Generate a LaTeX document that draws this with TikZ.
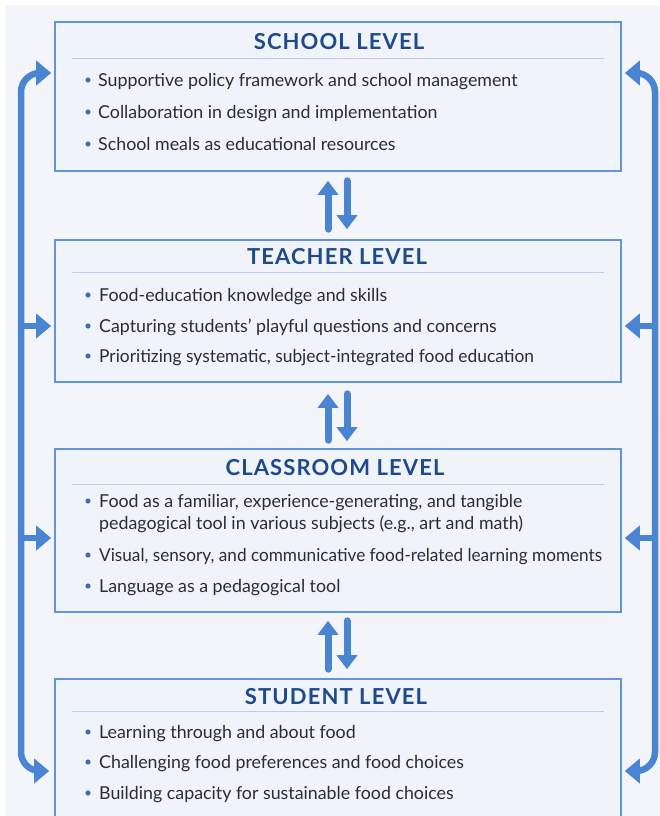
\documentclass[tikz,border=0pt]{standalone}
\usepackage{fontspec}
\setmainfont{Lato}
\usetikzlibrary{arrows.meta}
\definecolor{bgc}{HTML}{F4F5FA}
\definecolor{boxfill}{HTML}{F1F3FA}
\definecolor{boxline}{HTML}{6294DA}
\definecolor{sepc}{HTML}{BCCDEB}
\definecolor{ttlc}{HTML}{1D4A8C}
\definecolor{txtc}{HTML}{2A2C36}
\definecolor{arrc}{HTML}{4A85D4}
\definecolor{bulc}{HTML}{3D6CB4}
\tikzset{
  lvlbox/.style={draw=boxline, line width=1.6pt, fill=boxfill, rectangle, minimum width=566pt, inner sep=0pt},
  ttl/.style={text=ttlc, font=\fontsize{22}{24}\selectfont\bfseries\addfontfeatures{LetterSpace=5}, inner sep=0pt, anchor=base},
  item/.style={text=txtc, font=\fontsize{17.8}{20}\selectfont, anchor=base west, inner sep=0pt},
  dotn/.style={circle, fill=bulc, minimum size=5.2pt, inner sep=0pt},
  sepl/.style={draw=sepc, line width=1pt},
  flow/.style={draw=arrc, line width=6.5pt, -{Triangle[width=24pt,length=15pt]}},
  dbl/.style={draw=arrc, line width=7pt, line cap=round, -{Triangle[width=20pt,length=14pt]}},
}
\begin{document}
\begin{tikzpicture}[x=1pt,y=-1pt]
\useasboundingbox (0,0) rectangle (660,816);
\clip (0,0) rectangle (660,816);
\fill[white] (0,0) rectangle (660,816);
\fill[bgc] (5,5) rectangle (662,818);

% boxes
\node[lvlbox, minimum height=149pt] (school) at (338,96.5) {};
\node[lvlbox, minimum height=142pt] (teacher) at (338,311) {};
\node[lvlbox, minimum height=163pt] (classroom) at (338,530.5) {};
\node[lvlbox, minimum height=144pt] (student) at (338,751) {};

% titles and separators
\node[ttl] (t1) at (339,50) {SCHOOL LEVEL};
\draw[sepl] (72,59) -- (604,59);
\node[ttl] (t2) at (337,264) {TEACHER LEVEL};
\draw[sepl] (72,272) -- (604,272);
\node[ttl] (t3) at (335,475) {CLASSROOM LEVEL};
\draw[sepl] (72,484) -- (604,484);
\node[ttl] (t4) at (336,704) {STUDENT LEVEL};
\draw[sepl] (72,711) -- (604,711);

% school items
\node[dotn] (sd1) at (88,80) {};
\node[item] (s1) at (98,86) {Supportive policy framework and school management};
\node[dotn] (sd2) at (88,112) {};
\node[item] (s2) at (98,118) {Collaboration in design and implementation};
\node[dotn] (sd3) at (88,144) {};
\node[item] (s3) at (98,150) {School meals as educational resources};

% teacher items
\node[dotn] (td1) at (88,295) {};
\node[item] (te1) at (99,301) {Food-education knowledge and skills};
\node[dotn] (td2) at (88,326) {};
\node[item] (te2) at (99,332) {Capturing students’ playful questions and concerns};
\node[dotn] (td3) at (88,356) {};
\node[item] (te3) at (99,362) {\scalebox{0.975}[1]{Prioritizing systematic, subject-integrated food education}};

% classroom items
\node[dotn] (cd1) at (88,501) {};
\node[item] (c1) at (99,507) {Food as a familiar, experience-generating, and tangible};
\node[item] (c1b) at (99,529) {pedagogical tool in various subjects (e.g., art and math)};
\node[dotn] (cd2) at (88,555) {};
\node[item] (c2) at (99,561) {\scalebox{0.965}[1]{Visual, sensory, and communicative food-related learning moments}};
\node[dotn] (cd3) at (88,586) {};
\node[item] (c3) at (99,592) {Language as a pedagogical tool};

% student items
\node[dotn] (ud1) at (88,732) {};
\node[item] (u1) at (99,738) {Learning through and about food};
\node[dotn] (ud2) at (88,762) {};
\node[item] (u2) at (99,768) {Challenging food preferences and food choices};
\node[dotn] (ud3) at (88,793) {};
\node[item] (u3) at (99,799) {Building capacity for sustainable food choices};

% double arrows between levels
\draw[dbl, shorten <=10pt, shorten >=9pt] ([xshift=-10pt]teacher.north) -- ([xshift=-10pt]school.south);
\draw[dbl, shorten <=9pt, shorten >=10pt] ([xshift=9pt]school.south) -- ([xshift=9pt]teacher.north);
\draw[dbl, shorten <=8pt, shorten >=11pt] ([xshift=-10pt]classroom.north) -- ([xshift=-10pt]teacher.south);
\draw[dbl, shorten <=11pt, shorten >=7pt] ([xshift=9pt]teacher.south) -- ([xshift=9pt]classroom.north);
\draw[dbl, shorten <=9pt, shorten >=8pt] ([xshift=-10pt]student.north) -- ([xshift=-10pt]classroom.south);
\draw[dbl, shorten <=8pt, shorten >=9pt] ([xshift=9pt]classroom.south) -- ([xshift=9pt]student.north);

% feedback loops
\coordinate (ya) at (0,73);
\coordinate (yb) at (0,326);
\coordinate (yc) at (0,538);
\coordinate (yd) at (0,771);
\coordinate (lm) at (21,420);
\coordinate (rm) at (655,420);

\draw[flow, rounded corners=19pt, shorten >=3pt] (lm) |- (school.west |- ya);
\draw[flow, rounded corners=19pt, shorten >=5pt] (lm) |- (student.west |- yd);
\draw[flow, shorten >=3pt] (lm |- yb) -- (teacher.west |- yb);
\draw[flow, shorten >=3pt] (lm |- yc) -- (classroom.west |- yc);

\draw[flow, rounded corners=19pt, shorten >=3pt] (rm) |- (school.east |- ya);
\draw[flow, rounded corners=19pt, shorten >=3pt] (rm) |- (student.east |- yd);
\draw[flow, shorten >=3pt] (rm |- yb) -- (teacher.east |- yb);
\draw[flow, shorten >=3pt] (rm |- yc) -- (classroom.east |- yc);
\end{tikzpicture}
\end{document}
